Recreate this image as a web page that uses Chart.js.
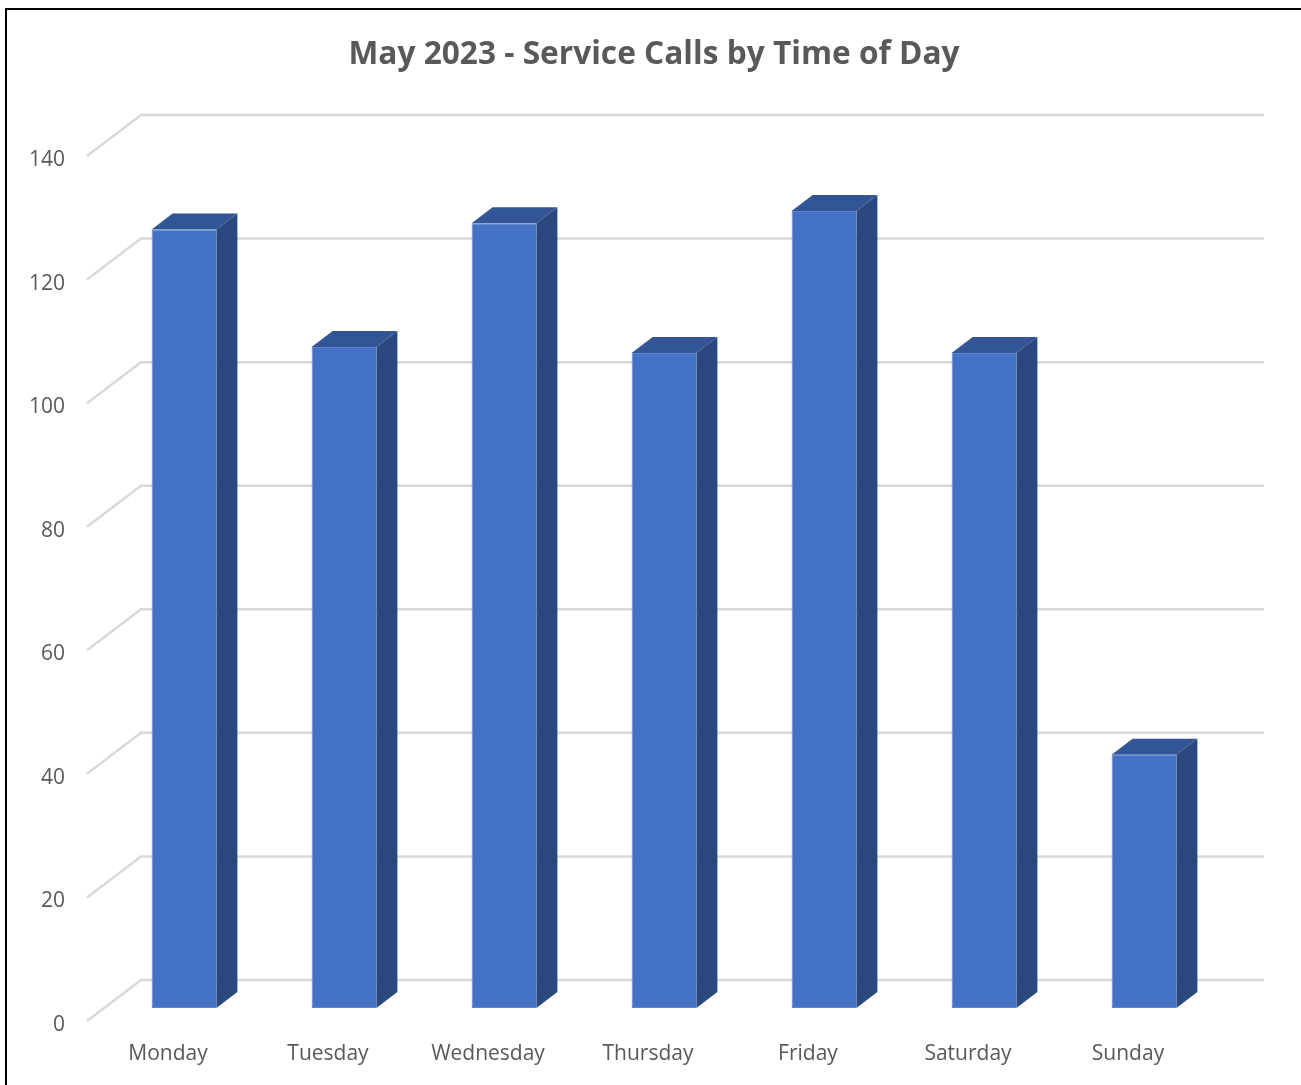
<!DOCTYPE html>
<html>
<head>
<meta charset="utf-8">
<title>May 2023 - Service Calls by Time of Day</title>
<script src="https://cdn.jsdelivr.net/npm/chart.js@4"></script>
<style>
    html, body { margin: 0; padding: 0; background: #fff; overflow: hidden; }
    #frame { position: absolute; left: 5px; top: 8px; right: 0; bottom: 0; border-left: 2px solid #000; border-top: 2px solid #000; }
    #callsChart { position: absolute; left: 0; top: 0; }
</style>
</head>
<body>
<canvas id="callsChart" width="1301" height="1085"></canvas>
<div id="frame"></div>
<script>
const chartTitle = 'May 2023 - Service Calls by Time of Day';
const days = ['Monday', 'Tuesday', 'Wednesday', 'Thursday', 'Friday', 'Saturday', 'Sunday'];
const calls = [126, 107, 127, 106, 129, 106, 41];

const textColor = '#595959';
const gridColor = '#d9d9d9';
const frontColor = '#4472c4';
const topColor = '#315595';
const sideColor = '#29487d';

// 3D look: how far the bar depth and the back wall sit from the front plane
const barDepth = { x: 21, y: 16 };
const wall = { left: 141, right: 1264, dy: -28 };
const floorFront = { x: 87, dy: 13 };

// Draws the back wall gridlines and the floor diagonals behind the bars
const wallGrid = {
    id: 'wallGrid',
    beforeDatasetsDraw(chart) {
        const ctx = chart.ctx;
        const yScale = chart.scales.y;
        ctx.save();
        ctx.strokeStyle = gridColor;
        ctx.lineWidth = 2.5;
        yScale.ticks.forEach(function(tick) {
            const y = yScale.getPixelForValue(tick.value);
            ctx.beginPath();
            ctx.moveTo(floorFront.x, y + floorFront.dy);
            ctx.lineTo(wall.left, y + wall.dy);
            ctx.lineTo(wall.right, y + wall.dy);
            ctx.stroke();
        });
        ctx.restore();
    }
};

// Draws the top and side faces from each bar's own position
const barFaces = {
    id: 'barFaces',
    beforeDatasetDraw(chart) {
        const ctx = chart.ctx;
        chart.getDatasetMeta(0).data.forEach(function(bar) {
            const left = bar.x - bar.width / 2;
            const right = bar.x + bar.width / 2;

            ctx.fillStyle = topColor;
            ctx.beginPath();
            ctx.moveTo(left, bar.y);
            ctx.lineTo(left + barDepth.x, bar.y - barDepth.y);
            ctx.lineTo(right + barDepth.x, bar.y - barDepth.y);
            ctx.lineTo(right, bar.y);
            ctx.closePath();
            ctx.fill();

            ctx.fillStyle = sideColor;
            ctx.beginPath();
            ctx.moveTo(right, bar.y);
            ctx.lineTo(right + barDepth.x, bar.y - barDepth.y);
            ctx.lineTo(right + barDepth.x, bar.base - barDepth.y);
            ctx.lineTo(right, bar.base);
            ctx.closePath();
            ctx.fill();
        });
    }
};

new Chart(document.getElementById('callsChart'), {
    type: 'bar',
    data: {
        labels: days,
        datasets: [{
            label: 'Service Calls',
            data: calls,
            backgroundColor: frontColor,
            borderColor: '#5f86cc',
            borderWidth: 1,
            borderSkipped: 'right',
            categoryPercentage: 1,
            barPercentage: 0.405
        }]
    },
    options: {
        responsive: false,
        animation: false,
        layout: { padding: { left: 14, right: 7, top: 0, bottom: 0 } },
        plugins: {
            legend: { display: false },
            tooltip: { enabled: false },
            title: {
                display: true,
                text: chartTitle,
                color: textColor,
                font: { family: '"Open Sans"', size: 31.66, weight: 'bold', lineHeight: 1.2 },
                padding: { top: 36, bottom: 69 }
            }
        },
        scales: {
            x: {
                grid: { display: false },
                border: { display: false },
                afterFit(scale) { scale.height = 77; },
                ticks: {
                    color: textColor,
                    font: { family: '"Open Sans"', size: 21 },
                    labelOffset: -16,
                    padding: 25,
                    maxRotation: 0
                }
            },
            y: {
                min: 0,
                max: 140,
                grid: { display: false },
                border: { display: false },
                afterFit(scale) { scale.width = 90; },
                ticks: {
                    stepSize: 20,
                    color: textColor,
                    font: { family: '"Open Sans"', size: 21 },
                    labelOffset: 17,
                    padding: 31
                }
            },
            // empty axis that only reserves room for the wall on the right
            rightSpace: {
                position: 'right',
                grid: { display: false },
                border: { display: false },
                ticks: { display: false },
                afterFit(scale) { scale.width = 70; }
            }
        }
    },
    plugins: [wallGrid, barFaces]
});
</script>
</body>
</html>
